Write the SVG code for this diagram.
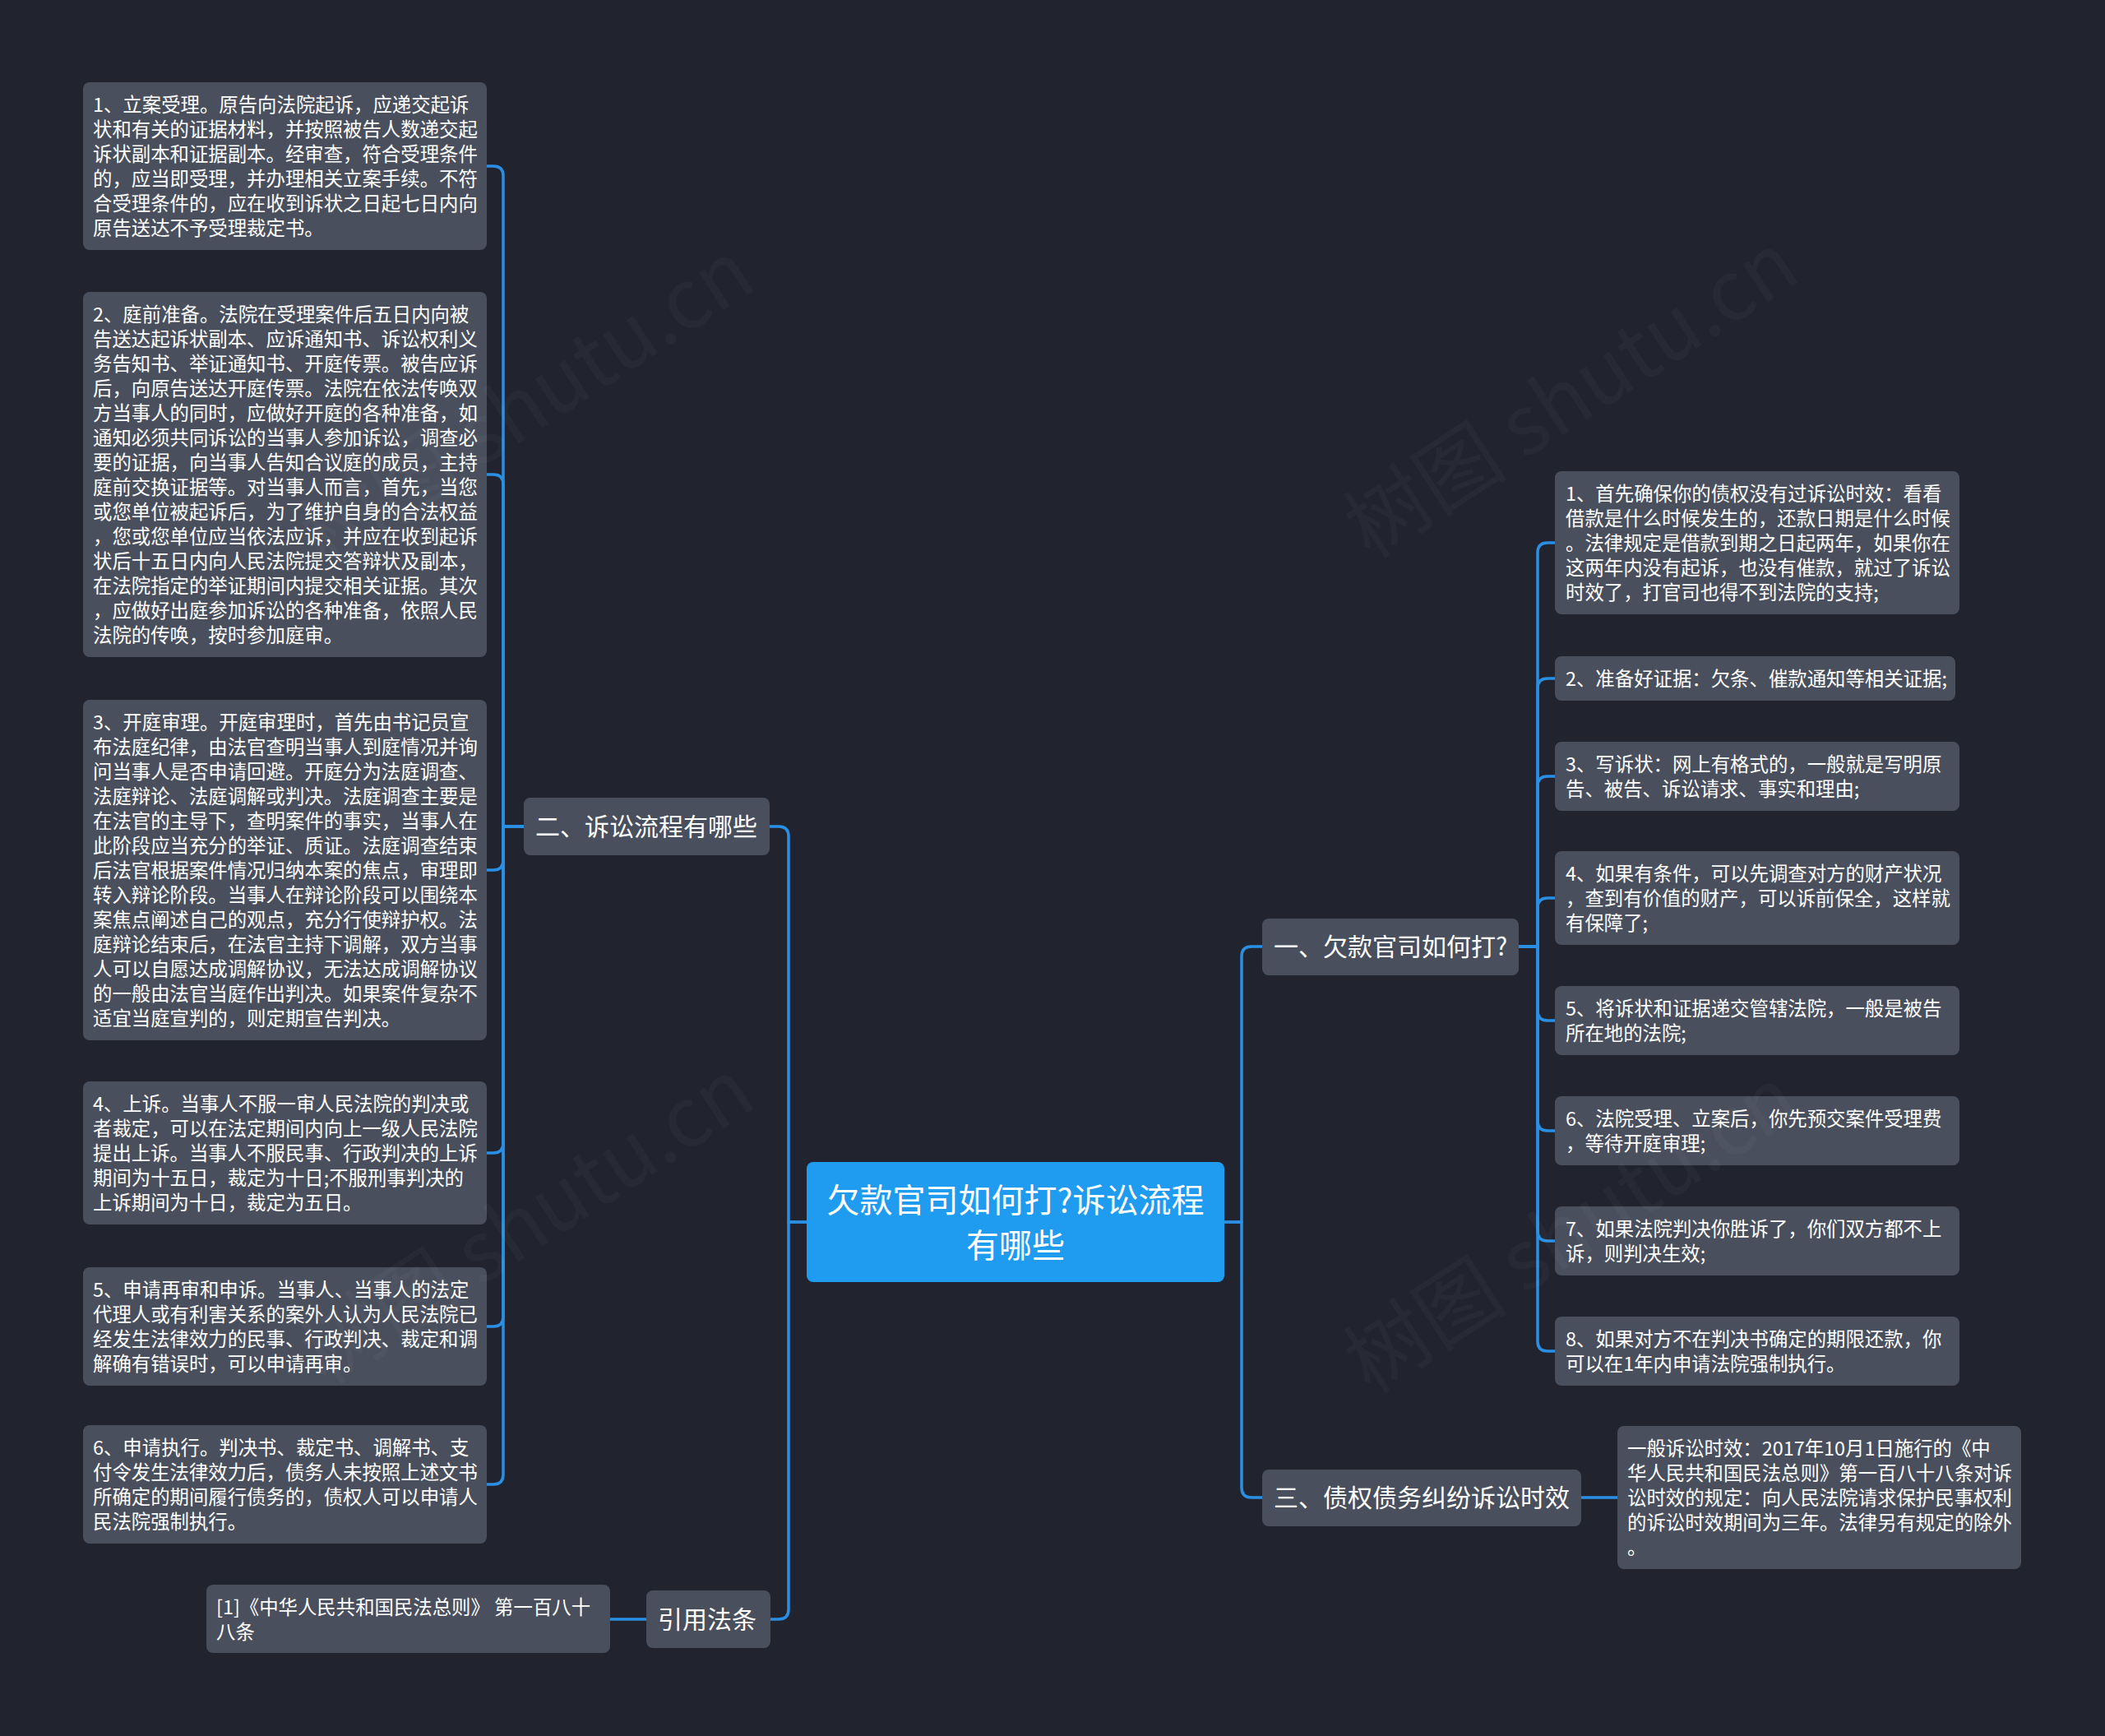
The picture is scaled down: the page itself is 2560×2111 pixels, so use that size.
<svg xmlns="http://www.w3.org/2000/svg" width="2560" height="2111" viewBox="0 0 2560 2111">
<style>
.bg{fill:#21242f}
.leaf{fill:#494f5d}
.l1{fill:#494f5d}
.root{fill:#1f9bf0}
.t{font-family:"Noto Sans CJK SC","Noto Sans",sans-serif;fill:#ffffff}
.lt{font-size:23.4px}
.l1t{font-size:30px}
.rt{font-size:40px}
.wm{font-family:"Noto Sans CJK SC","Noto Sans",sans-serif;font-size:100px;fill:#ffffff;fill-opacity:0.03}
.c{fill:none;stroke:#2a8fe3;stroke-width:3.5;stroke-linecap:round;stroke-linejoin:round}
</style>
<rect class="bg" x="0" y="0" width="2560" height="2111"/>
<g id="connectors">
<path class="c" d="M981,1486 H959 V1017 Q959,1005 947,1005 H936"/>
<path class="c" d="M981,1486 H959 V1957 Q959,1969 947,1969 H937"/>
<path class="c" d="M1489,1486 H1510 V1163 Q1510,1151 1522,1151 H1535"/>
<path class="c" d="M1489,1486 H1510 V1809 Q1510,1821 1522,1821 H1535"/>
<path class="c" d="M637,1005 H612 V214 Q612,202 600,202 H591"/>
<path class="c" d="M637,1005 H612 V589 Q612,577 600,577 H591"/>
<path class="c" d="M637,1005 H612 V1046 Q612,1058 600,1058 H591"/>
<path class="c" d="M637,1005 H612 V1390 Q612,1402 600,1402 H591"/>
<path class="c" d="M637,1005 H612 V1601 Q612,1613 600,1613 H591"/>
<path class="c" d="M637,1005 H612 V1793 Q612,1805 600,1805 H591"/>
<path class="c" d="M1847,1151 H1870 V672 Q1870,660 1882,660 H1891"/>
<path class="c" d="M1847,1151 H1870 V837 Q1870,825 1882,825 H1891"/>
<path class="c" d="M1847,1151 H1870 V956 Q1870,944 1882,944 H1891"/>
<path class="c" d="M1847,1151 H1870 V1104 Q1870,1092 1882,1092 H1891"/>
<path class="c" d="M1847,1151 H1870 V1229 Q1870,1241 1882,1241 H1891"/>
<path class="c" d="M1847,1151 H1870 V1363 Q1870,1375 1882,1375 H1891"/>
<path class="c" d="M1847,1151 H1870 V1497 Q1870,1509 1882,1509 H1891"/>
<path class="c" d="M1847,1151 H1870 V1631 Q1870,1643 1882,1643 H1891"/>
<path class="c" d="M1922,1821 H1967"/>
<path class="c" d="M786,1969 H742"/>
</g>
<g id="root">
<rect class="root" x="981" y="1413" width="508" height="146" rx="8"/>
<text class="t rt" text-anchor="middle"><tspan x="1235" y="1474">欠款官司如何打?诉讼流程</tspan><tspan x="1235" y="1529">有哪些</tspan></text>
</g>
<g id="b2">
<rect class="l1" x="637" y="970" width="299" height="70" rx="8"/>
<text class="t l1t" x="651" y="1016">二、诉讼流程有哪些</text>
</g>
<g id="b1">
<rect class="l1" x="1535" y="1117" width="312" height="69" rx="8"/>
<text class="t l1t" x="1549" y="1162">一、欠款官司如何打?</text>
</g>
<g id="b3">
<rect class="l1" x="1535" y="1787" width="388" height="69" rx="8"/>
<text class="t l1t" x="1549" y="1832">三、债权债务纠纷诉讼时效</text>
</g>
<g id="b4">
<rect class="l1" x="786" y="1934" width="151" height="70" rx="8"/>
<text class="t l1t" x="800" y="1980">引用法条</text>
</g>
<g id="L1">
<rect class="leaf" x="101" y="100" width="491" height="204" rx="8"/>
<text class="t lt"><tspan x="113" y="136">1、立案受理。原告向法院起诉，应递交起诉</tspan><tspan x="113" y="166">状和有关的证据材料，并按照被告人数递交起</tspan><tspan x="113" y="196">诉状副本和证据副本。经审查，符合受理条件</tspan><tspan x="113" y="226">的，应当即受理，并办理相关立案手续。不符</tspan><tspan x="113" y="256">合受理条件的，应在收到诉状之日起七日内向</tspan><tspan x="113" y="286">原告送达不予受理裁定书。</tspan></text>
</g>
<g id="L2">
<rect class="leaf" x="101" y="355" width="491" height="444" rx="8"/>
<text class="t lt"><tspan x="113" y="391">2、庭前准备。法院在受理案件后五日内向被</tspan><tspan x="113" y="421">告送达起诉状副本、应诉通知书、诉讼权利义</tspan><tspan x="113" y="451">务告知书、举证通知书、开庭传票。被告应诉</tspan><tspan x="113" y="481">后，向原告送达开庭传票。法院在依法传唤双</tspan><tspan x="113" y="511">方当事人的同时，应做好开庭的各种准备，如</tspan><tspan x="113" y="541">通知必须共同诉讼的当事人参加诉讼，调查必</tspan><tspan x="113" y="571">要的证据，向当事人告知合议庭的成员，主持</tspan><tspan x="113" y="601">庭前交换证据等。对当事人而言，首先，当您</tspan><tspan x="113" y="631">或您单位被起诉后，为了维护自身的合法权益</tspan><tspan x="113" y="661">，您或您单位应当依法应诉，并应在收到起诉</tspan><tspan x="113" y="691">状后十五日内向人民法院提交答辩状及副本，</tspan><tspan x="113" y="721">在法院指定的举证期间内提交相关证据。其次</tspan><tspan x="113" y="751">，应做好出庭参加诉讼的各种准备，依照人民</tspan><tspan x="113" y="781">法院的传唤，按时参加庭审。</tspan></text>
</g>
<g id="L3">
<rect class="leaf" x="101" y="851" width="491" height="414" rx="8"/>
<text class="t lt"><tspan x="113" y="887">3、开庭审理。开庭审理时，首先由书记员宣</tspan><tspan x="113" y="917">布法庭纪律，由法官查明当事人到庭情况并询</tspan><tspan x="113" y="947">问当事人是否申请回避。开庭分为法庭调查、</tspan><tspan x="113" y="977">法庭辩论、法庭调解或判决。法庭调查主要是</tspan><tspan x="113" y="1007">在法官的主导下，查明案件的事实，当事人在</tspan><tspan x="113" y="1037">此阶段应当充分的举证、质证。法庭调查结束</tspan><tspan x="113" y="1067">后法官根据案件情况归纳本案的焦点，审理即</tspan><tspan x="113" y="1097">转入辩论阶段。当事人在辩论阶段可以围绕本</tspan><tspan x="113" y="1127">案焦点阐述自己的观点，充分行使辩护权。法</tspan><tspan x="113" y="1157">庭辩论结束后，在法官主持下调解，双方当事</tspan><tspan x="113" y="1187">人可以自愿达成调解协议，无法达成调解协议</tspan><tspan x="113" y="1217">的一般由法官当庭作出判决。如果案件复杂不</tspan><tspan x="113" y="1247">适宜当庭宣判的，则定期宣告判决。</tspan></text>
</g>
<g id="L4">
<rect class="leaf" x="101" y="1315" width="491" height="174" rx="8"/>
<text class="t lt"><tspan x="113" y="1351">4、上诉。当事人不服一审人民法院的判决或</tspan><tspan x="113" y="1381">者裁定，可以在法定期间内向上一级人民法院</tspan><tspan x="113" y="1411">提出上诉。当事人不服民事、行政判决的上诉</tspan><tspan x="113" y="1441">期间为十五日，裁定为十日;不服刑事判决的</tspan><tspan x="113" y="1471">上诉期间为十日，裁定为五日。</tspan></text>
</g>
<g id="L5">
<rect class="leaf" x="101" y="1541" width="491" height="144" rx="8"/>
<text class="t lt"><tspan x="113" y="1577">5、申请再审和申诉。当事人、当事人的法定</tspan><tspan x="113" y="1607">代理人或有利害关系的案外人认为人民法院已</tspan><tspan x="113" y="1637">经发生法律效力的民事、行政判决、裁定和调</tspan><tspan x="113" y="1667">解确有错误时，可以申请再审。</tspan></text>
</g>
<g id="L6">
<rect class="leaf" x="101" y="1733" width="491" height="144" rx="8"/>
<text class="t lt"><tspan x="113" y="1769">6、申请执行。判决书、裁定书、调解书、支</tspan><tspan x="113" y="1799">付令发生法律效力后，债务人未按照上述文书</tspan><tspan x="113" y="1829">所确定的期间履行债务的，债权人可以申请人</tspan><tspan x="113" y="1859">民法院强制执行。</tspan></text>
</g>
<g id="R1">
<rect class="leaf" x="1891" y="573" width="492" height="174" rx="8"/>
<text class="t lt"><tspan x="1904" y="609">1、首先确保你的债权没有过诉讼时效：看看</tspan><tspan x="1904" y="639">借款是什么时候发生的，还款日期是什么时候</tspan><tspan x="1904" y="669">。法律规定是借款到期之日起两年，如果你在</tspan><tspan x="1904" y="699">这两年内没有起诉，也没有催款，就过了诉讼</tspan><tspan x="1904" y="729">时效了，打官司也得不到法院的支持;</tspan></text>
</g>
<g id="R2">
<rect class="leaf" x="1891" y="798" width="487" height="54" rx="8"/>
<text class="t lt"><tspan x="1904" y="834">2、准备好证据：欠条、催款通知等相关证据;</tspan></text>
</g>
<g id="R3">
<rect class="leaf" x="1891" y="902" width="492" height="84" rx="8"/>
<text class="t lt"><tspan x="1904" y="938">3、写诉状：网上有格式的，一般就是写明原</tspan><tspan x="1904" y="968">告、被告、诉讼请求、事实和理由;</tspan></text>
</g>
<g id="R4">
<rect class="leaf" x="1891" y="1035" width="492" height="114" rx="8"/>
<text class="t lt"><tspan x="1904" y="1071">4、如果有条件，可以先调查对方的财产状况</tspan><tspan x="1904" y="1101">，查到有价值的财产，可以诉前保全，这样就</tspan><tspan x="1904" y="1131">有保障了;</tspan></text>
</g>
<g id="R5">
<rect class="leaf" x="1891" y="1199" width="492" height="84" rx="8"/>
<text class="t lt"><tspan x="1904" y="1235">5、将诉状和证据递交管辖法院，一般是被告</tspan><tspan x="1904" y="1265">所在地的法院;</tspan></text>
</g>
<g id="R6">
<rect class="leaf" x="1891" y="1333" width="492" height="84" rx="8"/>
<text class="t lt"><tspan x="1904" y="1369">6、法院受理、立案后，你先预交案件受理费</tspan><tspan x="1904" y="1399">，等待开庭审理;</tspan></text>
</g>
<g id="R7">
<rect class="leaf" x="1891" y="1467" width="492" height="84" rx="8"/>
<text class="t lt"><tspan x="1904" y="1503">7、如果法院判决你胜诉了，你们双方都不上</tspan><tspan x="1904" y="1533">诉，则判决生效;</tspan></text>
</g>
<g id="R8">
<rect class="leaf" x="1891" y="1601" width="492" height="84" rx="8"/>
<text class="t lt"><tspan x="1904" y="1637">8、如果对方不在判决书确定的期限还款，你</tspan><tspan x="1904" y="1667">可以在1年内申请法院强制执行。</tspan></text>
</g>
<g id="R9">
<rect class="leaf" x="1967" y="1734" width="491" height="174" rx="8"/>
<text class="t lt"><tspan x="1979" y="1770">一般诉讼时效：2017年10月1日施行的《中</tspan><tspan x="1979" y="1800">华人民共和国民法总则》第一百八十八条对诉</tspan><tspan x="1979" y="1830">讼时效的规定：向人民法院请求保护民事权利</tspan><tspan x="1979" y="1860">的诉讼时效期间为三年。法律另有规定的除外</tspan><tspan x="1979" y="1890">。</tspan></text>
</g>
<g id="ref1">
<rect class="leaf" x="251" y="1927" width="491" height="83" rx="8"/>
<text class="t lt"><tspan x="263" y="1963">[1]《中华人民共和国民法总则》 第一百八十</tspan><tspan x="263" y="1993">八条</tspan></text>
</g>
<g id="watermarks">
<text class="wm" x="660" y="520" text-anchor="middle" transform="rotate(-33 660 520)">树图 shutu.cn</text>
<text class="wm" x="1930" y="510" text-anchor="middle" transform="rotate(-33 1930 510)">树图 shutu.cn</text>
<text class="wm" x="660" y="1515" text-anchor="middle" transform="rotate(-33 660 1515)">树图 shutu.cn</text>
<text class="wm" x="1930" y="1525" text-anchor="middle" transform="rotate(-33 1930 1525)">树图 shutu.cn</text>
</g>
</svg>
